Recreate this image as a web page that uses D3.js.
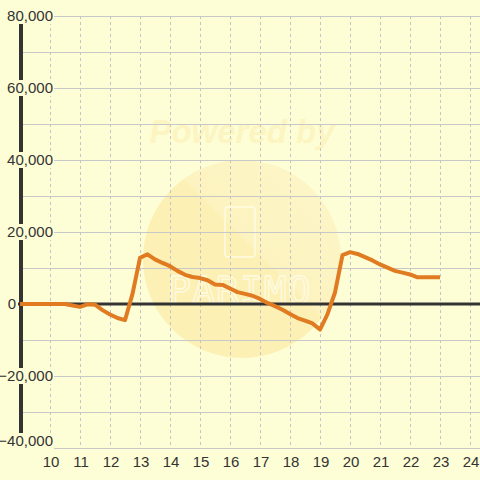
<!DOCTYPE html>
<html><head><meta charset="utf-8">
<script src="https://cdn.jsdelivr.net/npm/d3@7"></script>
<style>html,body{margin:0;padding:0;background:#fefed6;}svg{display:block;}</style>
</head><body>
<svg id="chart" width="480" height="480"></svg>
<script>
const hours = [9.00,9.25,9.50,9.75,10.00,10.25,10.50,10.75,11.00,11.25,11.50,11.75,12.00,12.25,12.50,12.75,
  13.00,13.25,13.50,13.75,14.00,14.25,14.50,14.75,15.00,15.25,15.50,15.75,16.00,16.25,16.50,16.75,
  17.00,17.25,17.50,17.75,18.00,18.25,18.50,18.75,19.00,19.25,19.50,19.75,20.00,20.25,20.50,20.75,
  21.00,21.25,21.50,21.75,22.00,22.25,22.50,22.75,23.00];
const values = [0,0,0,0,0,0,0,-400,-800,-100,-200,-1700,-2900,-3900,-4500,2800,
  12800,13800,12400,11400,10500,9200,8100,7500,7200,6600,5400,5300,4300,3300,2800,2300,
  1400,300,-600,-1600,-2800,-3900,-4600,-5400,-7100,-2800,3200,13600,14400,13900,13000,12100,
  11000,10100,9200,8700,8200,7400,7400,7400,7400];
const xTicks = [10,11,12,13,14,15,16,17,18,19,20,21,22,23,24];
const yLabelTicks = [80000,60000,40000,20000,0,-20000,-40000];
const yGridTicks = [80000,70000,60000,50000,40000,30000,20000,10000,0,-10000,-20000,-30000,-40000];

const W = 480, H = 480;
const svg = d3.select("#chart");
const x = d3.scaleLinear().domain([9, 24]).range([20, 470]);
const y = d3.scaleLinear().domain([-40000, 80000]).range([448, 16]);

svg.append("rect").attr("width", W).attr("height", H).attr("fill", "#fefed6");

// watermark
const wm = svg.append("g");
const grad = svg.append("defs").append("linearGradient").attr("id","wmg")
  .attr("x1","0").attr("y1","1").attr("x2","1").attr("y2","0");
grad.append("stop").attr("offset","0").attr("stop-color","#fcf0b4");
grad.append("stop").attr("offset","0.55").attr("stop-color","#fcf0b4");
grad.append("stop").attr("offset","0.56").attr("stop-color","#fcf3c0");
grad.append("stop").attr("offset","1").attr("stop-color","#fdf6c8");
wm.append("circle").attr("cx", 242).attr("cy", 259).attr("r", 99).attr("fill", "url(#wmg)");
wm.append("text").attr("x", 242).attr("y", 143).attr("text-anchor","middle")
  .attr("font-family","Liberation Sans, Arial, sans-serif").attr("font-weight","bold")
  .attr("font-style","italic").attr("font-size", 33).attr("fill","#fcf5c2").text("Powered by");
wm.append("rect").attr("x", 225).attr("y", 207).attr("width", 30).attr("height", 50).attr("rx", 3)
  .attr("fill","none").attr("stroke","#fffbe2").attr("stroke-width", 1.5);
wm.append("text").attr("x", 240).attr("y", 303).attr("text-anchor","middle")
  .attr("font-family","DejaVu Sans Mono, monospace").attr("font-size", 38)
  .attr("letter-spacing", 1).attr("fill","none").attr("stroke","#fffbe2").attr("stroke-width", 1.3)
  .text("PARIMO");

// horizontal grid
svg.append("g").selectAll("line").data(yGridTicks).join("line")
  .attr("x1", 21).attr("x2", W).attr("y1", d => y(d) + 0.5).attr("y2", d => y(d) + 0.5)
  .attr("stroke", "#c8c8c8").attr("stroke-width", 1);

// vertical dashed grid
svg.append("g").selectAll("line").data(xTicks).join("line")
  .attr("x1", d => x(d) + 0.5).attr("x2", d => x(d) + 0.5).attr("y1", y(80000)).attr("y2", y(-40000))
  .attr("stroke", "#c4c4c4").attr("stroke-width", 1).attr("stroke-dasharray", "3,3");

// y axis line
svg.append("line").attr("x1", 21).attr("x2", 21).attr("y1", y(80000)).attr("y2", y(-40000))
  .attr("stroke", "#333333").attr("stroke-width", 4);

// zero line
svg.append("line").attr("x1", 18).attr("x2", W).attr("y1", y(0)).attr("y2", y(0))
  .attr("stroke", "#333333").attr("stroke-width", 3);

// y labels with background boxes
const fmt = d3.format(",");
const yl = svg.append("g").selectAll("g").data(yLabelTicks).join("g")
  .attr("transform", d => `translate(0,${d === -40000 ? y(d) - 7 : y(d)})`);
yl.filter(d => d !== 0).append("rect").attr("x", 0).attr("y", -8).attr("width", 54).attr("height", 16)
  .attr("fill", "#fefed6");
yl.append("text")
  .attr("x", d => d === 0 ? 16 : 53).attr("dy", "0.36em").attr("text-anchor", "end")
  .attr("font-family", "Liberation Sans, Arial, sans-serif").attr("font-size", 15)
  .attr("fill", "#333333").text(d => fmt(d));

// x labels
svg.append("g").selectAll("text").data(xTicks).join("text")
  .attr("x", d => x(d) + 1).attr("y", 467).attr("text-anchor", "middle")
  .attr("font-family", "Liberation Sans, Arial, sans-serif").attr("font-size", 15)
  .attr("fill", "#333333").text(d => d);

// data line
const data = hours.map((h, i) => ({h, v: values[i]}));
svg.append("path").datum(data)
  .attr("d", d3.line().x(d => x(d.h)).y(d => y(d.v)))
  .attr("fill", "none").attr("stroke", "#e07b22").attr("stroke-width", 4)
  .attr("stroke-linejoin", "round");
</script>
</body></html>
